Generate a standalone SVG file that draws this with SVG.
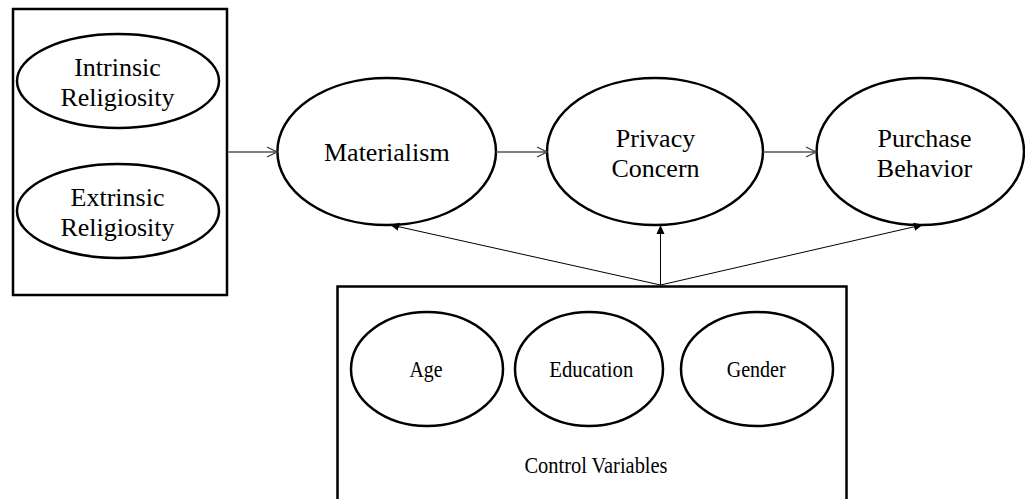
<svg xmlns="http://www.w3.org/2000/svg" width="1025" height="499" viewBox="0 0 1025 499">
  <defs>
    <marker id="open" viewBox="0 0 12 12" refX="11" refY="6" markerWidth="12" markerHeight="12" markerUnits="userSpaceOnUse" orient="auto">
      <path d="M1,1 L11,6 L1,11" fill="none" stroke="#404040" stroke-width="1.3"/>
    </marker>
    <marker id="solid" viewBox="0 0 10 10" refX="9" refY="5" markerWidth="9" markerHeight="9" markerUnits="userSpaceOnUse" orient="auto">
      <path d="M0,0.5 L10,5 L0,9.5 Z" fill="#000"/>
    </marker>
  </defs>
  <style>
    .box { fill: #fff; stroke: #000; stroke-width: 2.5; }
    .node { fill: #fff; stroke: #000; stroke-width: 2.5; }
    .t { font-family: "Liberation Serif", "Times New Roman", serif; font-size: 26px; fill: #000; text-anchor: middle; }
    .s { font-family: "Liberation Serif", "Times New Roman", serif; font-size: 24px; fill: #000; text-anchor: middle; }
    .h { stroke: #555; stroke-width: 1.3; fill: none; marker-end: url(#open); }
    .c { stroke: #000; stroke-width: 1; fill: none; marker-end: url(#solid); }
  </style>
  <rect width="1025" height="499" fill="#fff"/>

  <g id="religiosity-box">
    <rect class="box" x="13" y="9" width="214" height="286"/>
  </g>
  <g id="intrinsic">
    <ellipse class="node" cx="118" cy="81" rx="101" ry="47"/>
    <text class="t" x="117.5" y="76">Intrinsic</text>
    <text class="t" x="117.5" y="106">Religiosity</text>
  </g>
  <g id="extrinsic">
    <ellipse class="node" cx="118" cy="211" rx="101" ry="47"/>
    <text class="t" x="117.5" y="205.5">Extrinsic</text>
    <text class="t" x="117.5" y="235.5">Religiosity</text>
  </g>

  <g id="materialism">
    <ellipse class="node" cx="386.7" cy="151.5" rx="109.3" ry="73.5"/>
    <text class="t" x="386.8" y="161">Materialism</text>
  </g>
  <g id="privacy-concern">
    <ellipse class="node" cx="655" cy="151.5" rx="108" ry="73.5"/>
    <text class="t" x="655.5" y="146.5">Privacy</text>
    <text class="t" x="655.5" y="176.5">Concern</text>
  </g>
  <g id="purchase-behavior">
    <ellipse class="node" cx="920.3" cy="151.5" rx="103.7" ry="73.5"/>
    <text class="t" x="924.5" y="146.5">Purchase</text>
    <text class="t" x="924.5" y="176.5">Behavior</text>
  </g>

  <g id="control-variables">
    <rect class="box" x="337.5" y="286.5" width="509" height="230"/>
    <text class="s" x="596" y="472.5" textLength="143" lengthAdjust="spacingAndGlyphs">Control Variables</text>
  </g>
  <g id="age">
    <ellipse class="node" cx="427" cy="369" rx="76" ry="57"/>
    <text class="s" x="426" y="377" textLength="33" lengthAdjust="spacingAndGlyphs">Age</text>
  </g>
  <g id="education">
    <ellipse class="node" cx="589" cy="369" rx="74" ry="57"/>
    <text class="s" x="591.3" y="377" textLength="84" lengthAdjust="spacingAndGlyphs">Education</text>
  </g>
  <g id="gender">
    <ellipse class="node" cx="757" cy="369" rx="76" ry="57"/>
    <text class="s" x="756.2" y="377" textLength="59" lengthAdjust="spacingAndGlyphs">Gender</text>
  </g>

  <g id="connectors">
    <line class="h" x1="228.5" y1="152" x2="277" y2="152"/>
    <line class="h" x1="496" y1="152" x2="547" y2="152"/>
    <line class="h" x1="763" y1="152" x2="816" y2="152"/>
    <line class="c" x1="660.5" y1="285" x2="391" y2="225"/>
    <line class="c" x1="660.5" y1="285" x2="660.5" y2="226"/>
    <line class="c" x1="660.5" y1="285" x2="922" y2="225"/>
  </g>
</svg>
